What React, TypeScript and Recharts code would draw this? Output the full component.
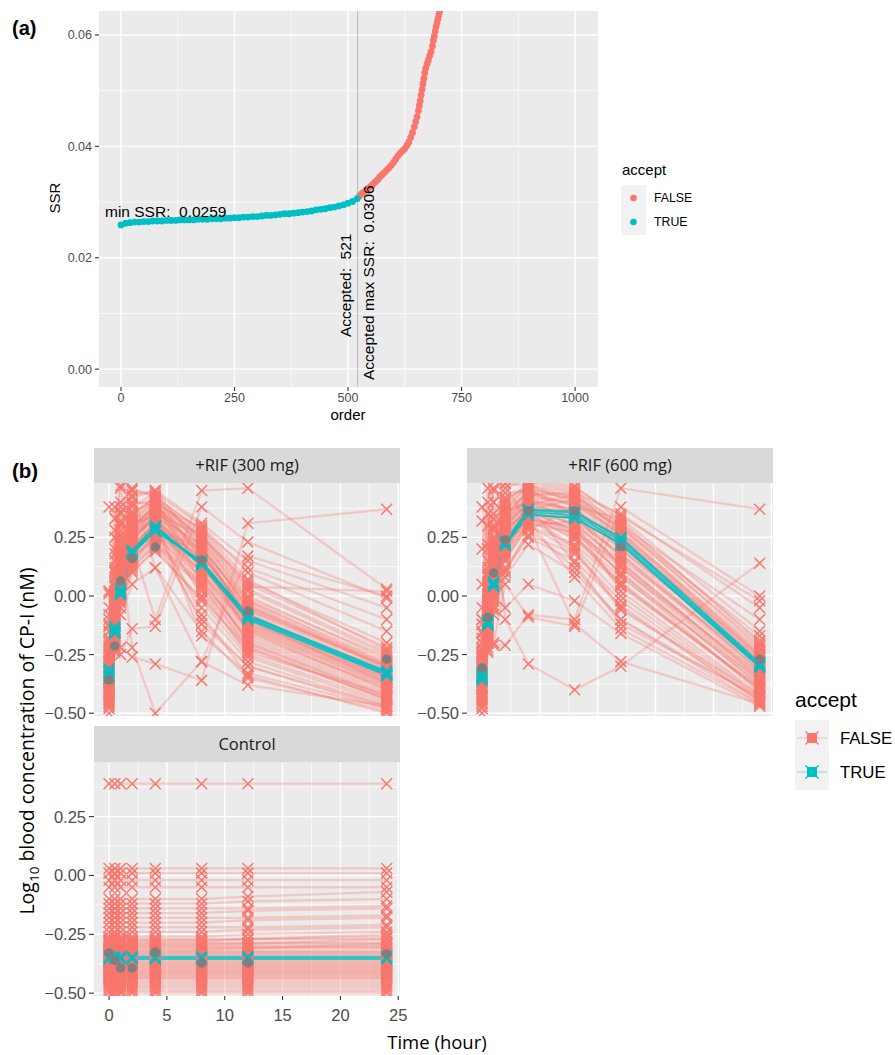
import React from "react";
import {
  ScatterChart,
  Scatter,
  ComposedChart,
  Line,
  XAxis,
  YAxis,
  CartesianGrid,
  ReferenceLine,
} from "recharts";

const RED = "#F8766D";
const TEAL = "#00BFC4";
const GREY = "#7F7F7F";
const SANS = '"Liberation Sans", Arial, Helvetica, sans-serif';
const SOFT = '"Open Sans", "Noto Sans", sans-serif';

// ---------- (a) sorted SSR ----------
const acceptedOrder = [
  0, 10, 20, 30, 40, 50, 60, 70, 80, 90, 100, 110, 120, 130, 140, 150, 160, 170,
  180, 190, 200, 210, 220, 230, 240, 250, 260, 270, 280, 290, 300, 310, 320, 330,
  340, 350, 360, 370, 380, 390, 400, 410, 420, 430, 440, 450, 460, 470, 480, 490,
  500, 510, 520,
];
const acceptedSSR = [
  0.0259, 0.0262, 0.0263, 0.0264, 0.0264, 0.0265, 0.0265, 0.0266, 0.0266, 0.0266,
  0.0267, 0.0267, 0.0267, 0.0268, 0.0268, 0.0268, 0.0268, 0.0269, 0.0269, 0.0269,
  0.027, 0.027, 0.027, 0.0271, 0.0271, 0.0272, 0.0272, 0.0273, 0.0273, 0.0274,
  0.0274, 0.0275, 0.0276, 0.0276, 0.0277, 0.0278, 0.0279, 0.0279, 0.028, 0.0281,
  0.0282, 0.0283, 0.0284, 0.0286, 0.0287, 0.0288, 0.029, 0.0291, 0.0293, 0.0295,
  0.0298, 0.0301, 0.0306,
];
const rejectedOrder = [
  525, 530, 535, 540, 545, 550, 555, 560, 565, 570, 575, 580, 585, 590, 595, 600,
  605, 610, 615, 620, 625, 630, 634, 638, 642, 646, 649, 652, 655, 657, 659, 661,
  663, 665, 667, 669, 671, 674, 677, 680, 683, 686, 688, 690, 692, 694, 696, 698,
  700, 702, 704,
];
const rejectedSSR = [
  0.0311, 0.0315, 0.0318, 0.0321, 0.0325, 0.0328, 0.0332, 0.0336, 0.034, 0.0345,
  0.0349, 0.0353, 0.0357, 0.0361, 0.0366, 0.0371, 0.0377, 0.0383, 0.0388, 0.0392,
  0.0396, 0.0402, 0.0408, 0.0416, 0.0425, 0.0435, 0.0444, 0.0453, 0.0464, 0.0473,
  0.0482, 0.0492, 0.0502, 0.0512, 0.0522, 0.0532, 0.054, 0.0548, 0.0555, 0.0563,
  0.057, 0.058, 0.059, 0.0598, 0.0607, 0.0615, 0.0622, 0.0629, 0.0636, 0.0643,
  0.065,
];
const acceptedCount = 521;

const xTicksA = [0, 125, 250, 375, 500, 625, 750, 875, 1000];
const xMajorA = [0, 250, 500, 750, 1000];
const yTicksA = [0, 0.01, 0.02, 0.03, 0.04, 0.05, 0.06];
const yMajorA = [0, 0.02, 0.04, 0.06];

// ---------- (b) simulated profiles ----------
const times = [0, 0.5, 1, 2, 4, 8, 12, 24];

const rif300Observed = [-0.358, -0.213, 0.064, 0.16, 0.209, 0.154, -0.064, -0.27];
const rif300Accepted = [
  [-0.33, -0.145, 0.017, 0.188, 0.29, 0.14, -0.09, -0.33],
  [-0.35, -0.155, 0.005, 0.178, 0.28, 0.15, -0.085, -0.32],
  [-0.32, -0.13, 0.03, 0.195, 0.3, 0.135, -0.095, -0.335],
  [-0.34, -0.14, 0.02, 0.18, 0.275, 0.145, -0.08, -0.325],
  [-0.31, -0.16, 0.01, 0.19, 0.295, 0.13, -0.1, -0.34],
];
const rif300Rejected = [
  [-0.4, -0.2, 0.05, 0.2, 0.32, 0.18, -0.08, -0.33],
  [-0.45, -0.1, 0.15, 0.28, 0.38, 0.22, -0.05, -0.3],
  [-0.3, -0.05, 0.2, 0.32, 0.4, 0.25, 0.02, -0.25],
  [-0.2, 0.05, 0.25, 0.35, 0.42, 0.28, 0.05, -0.22],
  [-0.48, -0.22, -0.02, 0.12, 0.22, 0.05, -0.18, -0.4],
  [-0.35, -0.15, 0.1, 0.22, 0.3, 0.1, -0.15, -0.38],
  [-0.25, 0.0, 0.22, 0.3, 0.35, 0.15, -0.12, -0.36],
  [-0.42, -0.18, 0.0, 0.15, 0.25, 0.08, -0.2, -0.42],
  [-0.15, 0.1, 0.3, 0.38, 0.44, 0.3, 0.1, -0.15],
  [-0.38, -0.12, 0.08, 0.25, 0.33, 0.12, -0.1, -0.34],
  [-0.46, -0.2, 0.02, 0.18, 0.28, 0.02, -0.25, -0.45],
  [-0.1, 0.15, 0.35, 0.42, 0.45, 0.2, -0.02, -0.28],
  [-0.32, -0.08, 0.12, 0.26, 0.36, 0.2, -0.04, -0.31],
  [-0.44, -0.16, 0.05, 0.2, 0.27, -0.05, -0.28, -0.47],
  [-0.28, -0.02, 0.18, 0.3, 0.38, 0.26, 0.0, -0.27],
  [-0.05, 0.2, 0.38, 0.45, 0.43, 0.15, -0.15, -0.4],
  [-0.36, -0.14, 0.06, 0.22, 0.31, 0.16, -0.07, -0.32],
  [-0.4, -0.16, 0.04, 0.17, 0.24, -0.1, -0.3, -0.48],
  [-0.22, 0.02, 0.24, 0.34, 0.41, 0.1, -0.2, -0.43],
  [-0.34, -0.1, 0.14, 0.28, 0.37, 0.24, -0.02, -0.29],
  [-0.47, -0.23, -0.05, 0.1, 0.2, -0.02, -0.26, -0.46],
  [-0.18, 0.08, 0.28, 0.36, 0.4, 0.05, -0.22, -0.44],
  [-0.26, -0.04, 0.16, 0.27, 0.33, 0.0, -0.24, -0.42],
  [0.02, 0.25, 0.4, 0.46, 0.42, 0.28, 0.12, -0.1],
  [-0.12, 0.12, 0.32, 0.4, 0.39, 0.18, -0.1, -0.37],
  [-0.3, -0.06, 0.1, 0.2, 0.3, -0.08, -0.34, -0.5],
  [-0.42, -0.2, 0.03, 0.14, 0.26, 0.14, -0.12, -0.35],
  [-0.08, 0.18, 0.36, 0.43, 0.45, 0.31, 0.15, -0.05],
  [-0.45, -0.24, -0.08, 0.05, 0.12, -0.15, -0.35, -0.49],
  [-0.24, 0.0, 0.2, 0.31, 0.34, 0.22, -0.06, -0.3],
  [-0.37, -0.17, 0.03, 0.19, 0.29, 0.17, -0.06, -0.31],
  [-0.33, -0.11, 0.09, 0.23, 0.34, 0.19, -0.09, -0.33],
  [-0.29, -0.07, 0.13, 0.27, 0.36, 0.21, -0.11, -0.35],
  [-0.41, -0.19, 0.01, 0.16, 0.27, 0.11, -0.14, -0.37],
  [-0.27, -0.03, 0.17, 0.29, 0.39, 0.23, -0.03, -0.3],
  [-0.39, -0.13, 0.07, 0.21, 0.32, 0.13, -0.13, -0.36],
  [-0.21, 0.04, 0.23, 0.33, 0.4, 0.27, 0.03, -0.24],
  [-0.43, -0.21, 0.0, 0.14, 0.23, 0.06, -0.17, -0.39],
  [-0.31, -0.09, 0.11, 0.24, 0.35, 0.09, -0.16, -0.39],
  [-0.35, -0.11, 0.12, 0.27, 0.37, 0.17, -0.05, -0.3],
  [-0.23, 0.01, 0.21, 0.32, 0.38, 0.19, -0.08, -0.34],
  [-0.44, -0.2, -0.01, 0.13, 0.21, 0.04, -0.21, -0.43],
  [-0.37, -0.15, 0.06, 0.2, 0.31, 0.07, -0.19, -0.41],
  [-0.19, 0.06, 0.26, 0.35, 0.42, 0.24, -0.01, -0.26],
  [-0.33, -0.09, 0.13, 0.26, 0.34, 0.03, -0.23, -0.44],
  [-0.4, -0.17, 0.03, 0.18, 0.29, 0.2, -0.04, -0.29],
  [-0.26, -0.02, 0.19, 0.31, 0.37, 0.13, -0.14, -0.38],
  [-0.46, -0.22, -0.03, 0.11, 0.19, -0.01, -0.22, -0.44],
  [-0.13, 0.11, 0.31, 0.39, 0.41, 0.25, 0.06, -0.2],
  [-0.34, -0.12, 0.1, 0.24, 0.33, 0.15, -0.11, -0.35],
  [-0.3, -0.05, 0.15, 0.29, 0.39, 0.29, 0.07, -0.23],
  [-0.42, -0.19, 0.02, 0.16, 0.26, 0.1, -0.13, -0.37],
  [-0.38, -0.15, 0.05, 0.2, 0.28, -0.12, -0.3, -0.47],
  [-0.28, -0.04, 0.15, 0.26, 0.32, -0.17, -0.33, -0.48],
  [-0.36, -0.13, 0.08, 0.23, 0.35, 0.26, 0.04, 0.02],
  [0.38, 0.33, 0.47, 0.45, 0.12, -0.28, -0.38, -0.47],
  [0.02, -0.12, -0.22, -0.26, -0.29, -0.36, 0.31, 0.37],
  [-0.5, 0.28, 0.46, 0.22, -0.1, 0.45, 0.46, 0.03],
  [0.01, -0.21, -0.25, -0.14, -0.13, 0.38, 0.23, -0.01],
  [-0.15, 0.38, 0.2, -0.22, -0.5, -0.28, 0.17, 0.0],
];

const rif600Observed = [-0.307, -0.09, 0.098, 0.239, 0.363, 0.363, 0.209, -0.27];
const rif600Accepted = [
  [-0.345, -0.115, 0.05, 0.226, 0.358, 0.345, 0.235, -0.295],
  [-0.33, -0.12, 0.04, 0.22, 0.35, 0.33, 0.225, -0.3],
  [-0.36, -0.105, 0.06, 0.235, 0.365, 0.355, 0.245, -0.29],
  [-0.35, -0.125, 0.045, 0.215, 0.345, 0.335, 0.22, -0.305],
  [-0.34, -0.11, 0.055, 0.23, 0.37, 0.36, 0.25, -0.285],
];
const rif600Rejected = [
  [-0.4, -0.15, 0.05, 0.25, 0.38, 0.36, 0.22, -0.3],
  [-0.3, -0.05, 0.15, 0.32, 0.42, 0.4, 0.25, -0.28],
  [-0.45, -0.2, 0.0, 0.18, 0.32, 0.3, 0.15, -0.35],
  [-0.2, 0.05, 0.25, 0.4, 0.48, 0.45, 0.3, -0.22],
  [-0.35, -0.12, 0.1, 0.28, 0.36, 0.28, 0.1, -0.38],
  [-0.25, 0.0, 0.2, 0.35, 0.44, 0.42, 0.28, -0.25],
  [-0.42, -0.18, 0.02, 0.2, 0.3, 0.22, 0.05, -0.4],
  [-0.1, 0.15, 0.35, 0.46, 0.5, 0.47, 0.32, -0.2],
  [-0.38, -0.1, 0.12, 0.3, 0.4, 0.33, 0.18, -0.32],
  [-0.46, -0.22, -0.04, 0.12, 0.26, 0.18, -0.02, -0.44],
  [-0.28, -0.02, 0.18, 0.34, 0.45, 0.38, 0.2, -0.27],
  [-0.15, 0.1, 0.3, 0.42, 0.46, 0.35, 0.12, -0.33],
  [-0.33, -0.08, 0.14, 0.3, 0.34, 0.25, 0.08, -0.36],
  [-0.44, -0.16, 0.06, 0.22, 0.37, 0.41, 0.26, -0.24],
  [-0.22, 0.02, 0.22, 0.36, 0.4, 0.3, 0.02, -0.42],
  [-0.05, 0.22, 0.4, 0.48, 0.47, 0.4, 0.3, -0.1],
  [-0.36, -0.14, 0.08, 0.24, 0.33, 0.2, -0.05, -0.45],
  [-0.4, -0.2, -0.05, 0.1, 0.28, 0.38, 0.33, -0.15],
  [-0.18, 0.08, 0.28, 0.38, 0.43, 0.44, 0.35, -0.05],
  [-0.31, -0.06, 0.16, 0.27, 0.38, 0.27, 0.14, -0.34],
  [-0.48, -0.24, -0.08, 0.08, 0.22, 0.1, -0.1, -0.46],
  [-0.26, -0.03, 0.19, 0.33, 0.41, 0.37, 0.24, -0.26],
  [0.05, 0.3, 0.45, 0.5, 0.49, 0.46, 0.34, -0.02],
  [-0.38, -0.12, 0.04, 0.16, 0.3, 0.32, 0.18, -0.31],
  [-0.12, 0.12, 0.33, 0.44, 0.45, 0.34, 0.16, -0.29],
  [-0.34, -0.09, 0.11, 0.29, 0.39, 0.43, 0.29, -0.21],
  [-0.43, -0.17, 0.01, 0.19, 0.35, 0.26, 0.04, -0.39],
  [-0.23, 0.03, 0.23, 0.37, 0.47, 0.44, 0.27, -0.23],
  [-0.37, -0.13, 0.07, 0.24, 0.37, 0.34, 0.2, -0.32],
  [-0.32, -0.08, 0.12, 0.29, 0.4, 0.37, 0.23, -0.3],
  [-0.41, -0.17, 0.03, 0.21, 0.33, 0.29, 0.12, -0.37],
  [-0.27, -0.04, 0.17, 0.33, 0.43, 0.39, 0.27, -0.26],
  [-0.36, -0.11, 0.09, 0.26, 0.35, 0.24, 0.06, -0.4],
  [-0.24, 0.01, 0.21, 0.36, 0.45, 0.43, 0.31, -0.19],
  [-0.44, -0.19, -0.01, 0.17, 0.31, 0.27, 0.1, -0.38],
  [-0.3, -0.07, 0.13, 0.3, 0.41, 0.35, 0.17, -0.33],
  [-0.39, -0.14, 0.06, 0.23, 0.36, 0.31, 0.14, -0.35],
  [-0.2, 0.04, 0.24, 0.39, 0.46, 0.41, 0.26, -0.27],
  [-0.34, -0.1, 0.1, 0.27, 0.38, 0.3, 0.09, -0.41],
  [-0.47, -0.23, -0.06, 0.11, 0.25, 0.15, -0.04, -0.45],
  [-0.29, -0.05, 0.16, 0.31, 0.42, 0.36, 0.21, -0.29],
  [-0.42, -0.18, 0.03, 0.2, 0.34, 0.21, 0.0, -0.43],
  [-0.25, 0.0, 0.2, 0.34, 0.44, 0.39, 0.24, -0.25],
  [-0.38, -0.12, 0.08, 0.25, 0.29, 0.12, -0.1, -0.44],
  [-0.16, 0.09, 0.29, 0.41, 0.47, 0.42, 0.29, -0.17],
  [-0.33, -0.09, 0.12, 0.28, 0.37, 0.26, 0.05, -0.39],
  [-0.43, -0.2, -0.02, 0.15, 0.3, 0.19, -0.06, -0.42],
  [-0.26, -0.01, 0.2, 0.35, 0.41, 0.32, 0.13, -0.36],
  [-0.35, -0.13, 0.07, 0.22, 0.32, 0.08, -0.14, -0.46],
  [-0.31, -0.06, 0.14, 0.31, 0.39, 0.14, -0.12, -0.43],
  [0.38, 0.2, 0.46, 0.48, 0.3, -0.12, -0.28, -0.46],
  [0.32, -0.1, -0.21, -0.21, -0.08, -0.1, 0.46, 0.37],
  [-0.1, 0.46, 0.4, -0.1, -0.29, -0.4, -0.3, 0.14],
  [0.2, 0.4, -0.2, 0.05, -0.09, -0.13, 0.38, 0.0],
  [-0.5, 0.35, 0.2, -0.05, 0.05, -0.02, -0.16, -0.47],
];

const controlObserved = [-0.329, -0.36, -0.393, -0.393, -0.325, -0.372, -0.372, -0.333];
const controlAccepted = [
  [-0.345, -0.345, -0.345, -0.345, -0.345, -0.345, -0.345, -0.345],
  [-0.35, -0.35, -0.35, -0.35, -0.35, -0.35, -0.35, -0.35],
  [-0.355, -0.355, -0.355, -0.355, -0.355, -0.355, -0.355, -0.355],
];
const controlRejected = [
  [0.39, 0.39, 0.39, 0.39, 0.39, 0.39, 0.39, 0.39],
  [0.03, 0.03, 0.03, 0.03, 0.03, 0.03, 0.03, 0.03],
  [0.01, 0.01, 0.01, 0.01, 0.01, 0.01, 0.01, 0.01],
  [-0.02, -0.02, -0.02, -0.02, -0.02, -0.02, -0.02, -0.02],
  [-0.05, -0.05, -0.05, -0.05, -0.05, -0.05, -0.05, -0.05],
  [-0.1, -0.1, -0.1, -0.1, -0.1, -0.1, -0.09, -0.07],
  [-0.12, -0.12, -0.12, -0.12, -0.12, -0.12, -0.11, -0.1],
  [-0.14, -0.14, -0.14, -0.14, -0.14, -0.14, -0.14, -0.13],
  [-0.16, -0.16, -0.16, -0.16, -0.16, -0.16, -0.15, -0.14],
  [-0.18, -0.18, -0.18, -0.18, -0.18, -0.18, -0.18, -0.17],
  [-0.2, -0.2, -0.2, -0.2, -0.2, -0.2, -0.19, -0.18],
  [-0.22, -0.22, -0.22, -0.22, -0.22, -0.22, -0.22, -0.21],
  [-0.24, -0.24, -0.24, -0.24, -0.24, -0.24, -0.23, -0.22],
  [-0.26, -0.26, -0.26, -0.26, -0.26, -0.26, -0.25, -0.24],
  [-0.27, -0.27, -0.27, -0.27, -0.27, -0.27, -0.27, -0.27],
  [-0.275, -0.275, -0.275, -0.275, -0.275, -0.275, -0.27, -0.25],
  [-0.28, -0.28, -0.28, -0.28, -0.28, -0.28, -0.27, -0.26],
  [-0.285, -0.285, -0.285, -0.285, -0.285, -0.285, -0.285, -0.285],
  [-0.29, -0.29, -0.29, -0.29, -0.29, -0.29, -0.29, -0.29],
  [-0.295, -0.295, -0.295, -0.295, -0.295, -0.295, -0.29, -0.27],
  [-0.3, -0.3, -0.3, -0.3, -0.3, -0.3, -0.3, -0.3],
  [-0.305, -0.305, -0.305, -0.305, -0.305, -0.305, -0.305, -0.305],
  [-0.31, -0.31, -0.31, -0.31, -0.31, -0.31, -0.31, -0.31],
  [-0.315, -0.315, -0.315, -0.315, -0.315, -0.315, -0.31, -0.29],
  [-0.32, -0.32, -0.32, -0.32, -0.32, -0.32, -0.32, -0.32],
  [-0.325, -0.325, -0.325, -0.325, -0.325, -0.325, -0.325, -0.325],
  [-0.33, -0.33, -0.33, -0.33, -0.33, -0.33, -0.33, -0.33],
  [-0.335, -0.335, -0.335, -0.335, -0.335, -0.335, -0.335, -0.335],
  [-0.34, -0.34, -0.34, -0.34, -0.34, -0.34, -0.34, -0.34],
  [-0.36, -0.36, -0.36, -0.36, -0.36, -0.36, -0.36, -0.36],
  [-0.365, -0.365, -0.365, -0.365, -0.365, -0.365, -0.365, -0.365],
  [-0.37, -0.37, -0.37, -0.37, -0.37, -0.37, -0.37, -0.37],
  [-0.375, -0.375, -0.375, -0.375, -0.375, -0.375, -0.375, -0.375],
  [-0.38, -0.38, -0.38, -0.38, -0.38, -0.38, -0.38, -0.38],
  [-0.385, -0.385, -0.385, -0.385, -0.385, -0.385, -0.385, -0.385],
  [-0.39, -0.39, -0.39, -0.39, -0.39, -0.39, -0.39, -0.39],
  [-0.395, -0.395, -0.395, -0.395, -0.395, -0.395, -0.395, -0.395],
  [-0.4, -0.4, -0.4, -0.4, -0.4, -0.4, -0.4, -0.4],
  [-0.405, -0.405, -0.405, -0.405, -0.405, -0.405, -0.405, -0.405],
  [-0.41, -0.41, -0.41, -0.41, -0.41, -0.41, -0.41, -0.41],
  [-0.415, -0.415, -0.415, -0.415, -0.415, -0.415, -0.415, -0.415],
  [-0.42, -0.42, -0.42, -0.42, -0.42, -0.42, -0.42, -0.42],
  [-0.425, -0.425, -0.425, -0.425, -0.425, -0.425, -0.425, -0.425],
  [-0.43, -0.43, -0.43, -0.43, -0.43, -0.43, -0.43, -0.43],
  [-0.435, -0.435, -0.435, -0.435, -0.435, -0.435, -0.435, -0.435],
  [-0.44, -0.44, -0.44, -0.44, -0.44, -0.44, -0.44, -0.44],
  [-0.45, -0.45, -0.45, -0.45, -0.45, -0.45, -0.45, -0.45],
  [-0.46, -0.46, -0.46, -0.46, -0.46, -0.46, -0.46, -0.46],
  [-0.47, -0.47, -0.47, -0.47, -0.47, -0.47, -0.47, -0.47],
  [-0.48, -0.48, -0.48, -0.48, -0.48, -0.48, -0.48, -0.48],
  [-0.49, -0.49, -0.49, -0.49, -0.49, -0.49, -0.49, -0.49],
  [-0.5, -0.5, -0.5, -0.5, -0.5, -0.5, -0.5, -0.5],
];

const xTicksB = [0, 2.5, 5, 7.5, 10, 12.5, 15, 17.5, 20, 22.5, 25];
const xMajorB = [0, 5, 10, 15, 20, 25];
const yTicksB = [-0.5, -0.375, -0.25, -0.125, 0, 0.125, 0.25, 0.375];
const yMajorB = [-0.5, -0.25, 0, 0.25];

function buildRows(obs: number[], acc: number[][], rej: number[][]) {
  return times.map((t, i) => {
    const row: Record<string, number> = { t, obs: obs[i] };
    rej.forEach((s, k) => (row[`r${k}`] = s[i]));
    acc.forEach((s, k) => (row[`a${k}`] = s[i]));
    return row;
  });
}

const isIn = (list: number[], v: number) => list.some((m) => Math.abs(m - v) < 1e-9);
const minus = (s: string) => s.replace("-", "\u2212");

// grid: even index = major line, odd = minor line; extra boundary lines skipped
const gridLine = (count: number) => (p: any) => {
  const i = p.index;
  if (typeof i === "number" && i >= count) return <g key={p.key} />;
  return (
    <line
      key={p.key}
      x1={p.x1}
      y1={p.y1}
      x2={p.x2}
      y2={p.y2}
      stroke="#FFFFFF"
      strokeWidth={i % 2 === 0 ? 1.4 : 0.7}
    />
  );
};

const yTick = (major: number[], fs: number, size: number, margin: number, f: (v: number) => string) => (p: any) => {
  const v = p.payload.value;
  if (!isIn(major, v)) return <g />;
  return (
    <g>
      <line x1={p.x + margin} x2={p.x + margin + size} y1={p.y} y2={p.y} stroke="#333333" strokeWidth={1.1} />
      <text x={p.x} y={p.y} dy="0.36em" textAnchor="end" fill="#4D4D4D" fontSize={fs} fontFamily={SANS}>
        {f(v)}
      </text>
    </g>
  );
};

const xTick = (major: number[], fs: number, size: number, margin: number) => (p: any) => {
  const v = p.payload.value;
  if (!isIn(major, v)) return <g />;
  return (
    <g>
      <line x1={p.x} x2={p.x} y1={p.y - margin - size} y2={p.y - margin} stroke="#333333" strokeWidth={1.1} />
      <text x={p.x} y={p.y} dy="0.71em" textAnchor="middle" fill="#4D4D4D" fontSize={fs} fontFamily={SANS}>
        {String(v)}
      </text>
    </g>
  );
};

const crossDot = (color: string) => (p: any) => {
  const { cx, cy, index } = p;
  const k = `${p.dataKey}-${index}`;
  if (cx == null || cy == null) return <g key={k} />;
  const s = 5.5;
  return (
    <path
      key={k}
      d={`M${cx - s},${cy - s}L${cx + s},${cy + s}M${cx - s},${cy + s}L${cx + s},${cy - s}`}
      stroke={color}
      strokeWidth={1.45}
      fill="none"
    />
  );
};

const obsDot = (p: any) => {
  const k = `obs-${p.index}`;
  if (p.cx == null || p.cy == null) return <g key={k} />;
  return <circle key={k} cx={p.cx} cy={p.cy} r={4.7} fill={GREY} />;
};

function Facet({
  obs,
  acc,
  rej,
  left,
  top,
  showX,
}: {
  obs: number[];
  acc: number[][];
  rej: number[][];
  left: number;
  top: number;
  showX: boolean;
}) {
  const rows = buildRows(obs, acc, rej);
  const plotH = showX ? 234 : 233;
  const xH = showX ? 40 : 0;
  return (
    <div style={{ position: "absolute", left, top }}>
      <ComposedChart
        width={424}
        height={5 + plotH + xH + 5}
        data={rows}
        margin={{ top: 5, right: 24, bottom: 5, left: 0 }}
      >
        <CartesianGrid
          fill="#EBEBEB"
          fillOpacity={1}
          horizontal={gridLine(yTicksB.length)}
          vertical={gridLine(xTicksB.length)}
        />
        <XAxis
          type="number"
          dataKey="t"
          domain={[-1.3, 25.15]}
          ticks={xTicksB}
          interval={0}
          allowDataOverflow
          hide={!showX}
          height={xH}
          axisLine={false}
          tickLine={false}
          tickSize={4}
          tickMargin={9}
          tick={xTick(xMajorB, 16.5, 4, 9)}
        />
        <YAxis
          type="number"
          domain={[-0.512, 0.482]}
          ticks={yTicksB}
          interval={0}
          allowDataOverflow
          width={94}
          axisLine={false}
          tickLine={false}
          tickSize={5}
          tickMargin={3}
          tick={yTick(yMajorB, 16.5, 5, 3, (v) => minus(v.toFixed(2)))}
        />
        {rej.map((_, k) => (
          <Line
            key={`rl${k}`}
            dataKey={`r${k}`}
            stroke={RED}
            strokeOpacity={0.3}
            strokeWidth={2.3}
            dot={false}
            activeDot={false}
            isAnimationActive={false}
          />
        ))}
        {rej.map((_, k) => (
          <Line
            key={`rd${k}`}
            dataKey={`r${k}`}
            stroke="none"
            dot={crossDot(RED)}
            activeDot={false}
            isAnimationActive={false}
          />
        ))}
        {acc.map((_, k) => (
          <Line
            key={`al${k}`}
            dataKey={`a${k}`}
            stroke={TEAL}
            strokeOpacity={0.75}
            strokeWidth={1.8}
            dot={false}
            activeDot={false}
            isAnimationActive={false}
          />
        ))}
        {acc.map((_, k) => (
          <Line
            key={`ad${k}`}
            dataKey={`a${k}`}
            stroke="none"
            dot={crossDot(TEAL)}
            activeDot={false}
            isAnimationActive={false}
          />
        ))}
        <Line dataKey="obs" stroke="none" dot={obsDot} activeDot={false} isAnimationActive={false} />
      </ComposedChart>
    </div>
  );
}

function PanelA() {
  const accPts = acceptedOrder.map((o, i) => ({ order: o, ssr: acceptedSSR[i] }));
  const rejPts = rejectedOrder.map((o, i) => ({ order: o, ssr: rejectedSSR[i] }));
  const dot = (c: string) => (p: any) => <circle cx={p.cx} cy={p.cy} r={3.4} fill={c} />;
  return (
    <div style={{ position: "absolute", left: 0, top: 0 }}>
      <ScatterChart width={600} height={410} margin={{ top: 11, right: 2, bottom: 0, left: 0 }}>
        <CartesianGrid
          fill="#EBEBEB"
          fillOpacity={1}
          horizontal={gridLine(yTicksA.length)}
          vertical={gridLine(xTicksA.length)}
        />
        <XAxis
          type="number"
          dataKey="order"
          domain={[-48.5, 1050.5]}
          ticks={xTicksA}
          interval={0}
          allowDataOverflow
          height={23}
          axisLine={false}
          tickLine={false}
          tickSize={4}
          tickMargin={2}
          tick={xTick(xMajorA, 12.5, 4, 2)}
        />
        <YAxis
          type="number"
          dataKey="ssr"
          domain={[-0.0032, 0.0643]}
          ticks={yTicksA}
          interval={0}
          allowDataOverflow
          width={99}
          axisLine={false}
          tickLine={false}
          tickSize={4}
          tickMargin={3}
          tick={yTick(yMajorA, 12.5, 4, 3, (v) => v.toFixed(2))}
        />
        <Scatter data={rejPts} fill={RED} shape={dot(RED)} isAnimationActive={false} />
        <Scatter data={accPts} fill={TEAL} shape={dot(TEAL)} isAnimationActive={false} />
        <ReferenceLine x={acceptedCount} stroke="#BDBDBD" strokeWidth={1.1} />
      </ScatterChart>
    </div>
  );
}

function LegendKeyB({ y, color }: { y: number; color: string }) {
  const cx = 812;
  const s = 6.5;
  return (
    <g>
      <line x1={797} x2={827} y1={y} y2={y} stroke={color} strokeOpacity={0.3} strokeWidth={1.5} />
      <rect x={cx - 5} y={y - 5} width={10} height={10} fill={color} />
      <path
        d={`M${cx - s},${y - s}L${cx + s},${y + s}M${cx - s},${y + s}L${cx + s},${y - s}`}
        stroke={color}
        strokeWidth={1.3}
      />
    </g>
  );
}

function Overlay() {
  return (
    <svg
      width={895}
      height={1055}
      style={{ position: "absolute", left: 0, top: 0, pointerEvents: "none" }}
    >
      {/* panel (a) texts */}
      <text x={12} y={35} fontFamily={SANS} fontWeight="bold" fontSize={20} fill="#000">
        (a)
      </text>
      <text
        x={60}
        y={198}
        transform="rotate(-90 60 198)"
        textAnchor="middle"
        fontFamily={SANS}
        fontSize={15}
        fill="#000"
      >
        SSR
      </text>
      <text x={348} y={420} textAnchor="middle" fontFamily={SANS} fontSize={15} fill="#000">
        order
      </text>
      <text x={105} y={216.5} fontFamily={SANS} fontSize={15.5} fill="#000" style={{ whiteSpace: "pre" }}>
        {"min SSR:  0.0259"}
      </text>
      <text
        x={351}
        y={337}
        transform="rotate(-90 351 337)"
        fontFamily={SANS}
        fontSize={15.5}
        fill="#000"
        style={{ whiteSpace: "pre" }}
      >
        {"Accepted:  521"}
      </text>
      <text
        x={374}
        y={380}
        transform="rotate(-90 374 380)"
        fontFamily={SANS}
        fontSize={15.5}
        fill="#000"
        style={{ whiteSpace: "pre" }}
      >
        {"Accepted max SSR:  0.0306"}
      </text>
      {/* legend (a) */}
      <text x={622} y={174.5} fontFamily={SANS} fontSize={15} fill="#000">
        accept
      </text>
      <rect x={621} y={185} width={25} height={50} fill="#F2F2F2" />
      <circle cx={633.5} cy={198} r={3.3} fill={RED} />
      <circle cx={633.5} cy={222} r={3.3} fill={TEAL} />
      <text x={654} y={198} dy="0.36em" fontFamily={SANS} fontSize={12.3} fill="#000">
        FALSE
      </text>
      <text x={654} y={222} dy="0.36em" fontFamily={SANS} fontSize={12.3} fill="#000">
        TRUE
      </text>

      {/* panel (b) texts */}
      <text x={12} y={478} fontFamily={SANS} fontWeight="bold" fontSize={20.5} fill="#000">
        (b)
      </text>
      <rect x={94} y={448} width={306} height={35} fill="#D9D9D9" />
      <text x={247} y={465.5} dy="0.36em" textAnchor="middle" fontFamily={SOFT} fontSize={16.5} fill="#1A1A1A">
        +RIF (300 mg)
      </text>
      <rect x={467} y={448} width={306} height={35} fill="#D9D9D9" />
      <text x={620} y={465.5} dy="0.36em" textAnchor="middle" fontFamily={SOFT} fontSize={16.5} fill="#1A1A1A">
        +RIF (600 mg)
      </text>
      <rect x={94} y={726} width={306} height={36} fill="#D9D9D9" />
      <text x={247} y={744} dy="0.36em" textAnchor="middle" fontFamily={SOFT} fontSize={16.5} fill="#1A1A1A">
        Control
      </text>
      <text
        x={34}
        y={741}
        transform="rotate(-90 34 741)"
        textAnchor="middle"
        fontFamily={SOFT}
        fontSize={19.5}
        fill="#000"
      >
        Log
        <tspan fontSize={13.5} dy={5}>
          10
        </tspan>
        <tspan dy={-5}> blood concentration of CP-I (nM)</tspan>
      </text>
      <text x={437} y={1049} textAnchor="middle" fontFamily={SOFT} fontSize={18.5} fill="#000">
        Time (hour)
      </text>
      {/* legend (b) */}
      <text x={795} y={707} fontFamily={SANS} fontSize={21} fill="#000">
        accept
      </text>
      <rect x={795} y={720} width={34} height={70} fill="#F2F2F2" />
      <LegendKeyB y={738} color={RED} />
      <LegendKeyB y={772} color={TEAL} />
      <text x={840} y={738} dy="0.36em" fontFamily={SANS} fontSize={16.8} fill="#000">
        FALSE
      </text>
      <text x={840} y={772} dy="0.36em" fontFamily={SANS} fontSize={16.8} fill="#000">
        TRUE
      </text>
    </svg>
  );
}

export default function App() {
  return (
    <div
      style={{
        position: "absolute",
        left: 0,
        top: 0,
        width: 895,
        height: 1055,
        background: "#FFFFFF",
        overflow: "hidden",
      }}
    >
      <PanelA />
      <Facet obs={rif300Observed} acc={rif300Accepted} rej={rif300Rejected} left={0} top={478} showX={false} />
      <Facet obs={rif600Observed} acc={rif600Accepted} rej={rif600Rejected} left={373} top={478} showX={false} />
      <Facet obs={controlObserved} acc={controlAccepted} rej={controlRejected} left={0} top={757} showX={true} />
      <Overlay />
    </div>
  );
}
